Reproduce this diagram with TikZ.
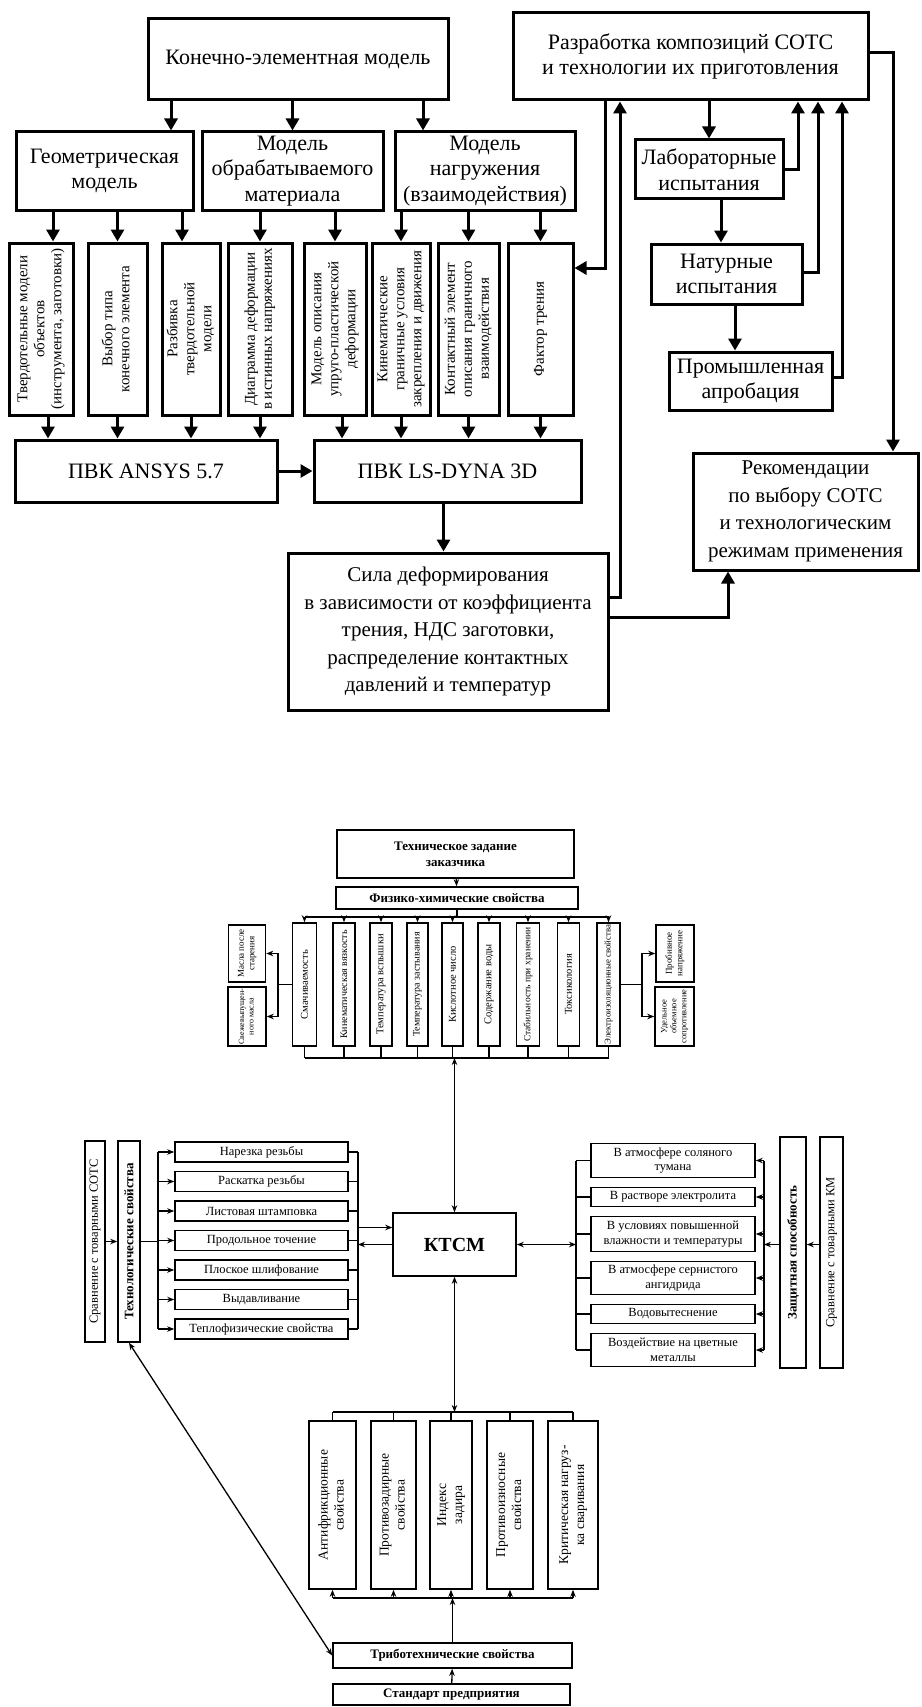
\documentclass[tikz,border=0pt]{standalone}
\usepackage{fontspec}
\setmainfont{Liberation Serif}
\usepackage{graphicx}
\usetikzlibrary{arrows.meta,positioning,calc}

\newcommand{\vtxt}[1]{\rotatebox{90}{\begin{tabular}{@{}c@{}}#1\end{tabular}}}

\begin{document}
\begin{tikzpicture}[x=1pt, y=-1pt,
  topbox/.style={draw, line width=3pt, align=center, inner sep=2pt,
    font=\fontsize{22}{25.5}\selectfont},
  midbox/.style={topbox, font=\fontsize{21}{27.5}\selectfont},
  rotbox/.style={draw, line width=3pt, inner sep=1pt, minimum height=172,
    font=\fontsize{15}{17}\selectfont},
  smallbox/.style={draw, line width=1.6pt, align=center, inner sep=1pt,
    font=\fontsize{12.5}{14.5}\selectfont},
  boldbox/.style={smallbox, font=\fontsize{13}{16}\selectfont\bfseries},
  propbox/.style={smallbox, minimum height=123, font=\fontsize{10.5}{12}\selectfont},
  tinybox/.style={smallbox, font=\fontsize{9}{10.5}\selectfont},
  bigarr/.style={line width=3pt, -{Triangle[length=12pt, width=13pt]}},
  link/.style={line width=1.3pt},
  smallarr/.style={line width=1.3pt, -{Stealth[length=7pt, width=5.5pt]}},
  twoarr/.style={line width=1.3pt, {Stealth[length=7pt, width=5.5pt]}-{Stealth[length=7pt, width=5.5pt]}}
]
  \fill[white] (0,0) rectangle (921,1707);
  \useasboundingbox (0,0) rectangle (921,1707);

  % finite element model
  \node[topbox, minimum width=300, minimum height=81] (fem) at (298,59.5) {Конечно-элементная модель};
  \node[topbox, minimum width=177, minimum height=78] (geom) at (104.5,171) {Геометрическая\\модель};
  \node[topbox, minimum width=181, minimum height=78] (mat) at (292.5,171) {Модель\\обрабатываемого\\материала};
  \node[topbox, minimum width=180, minimum height=78] (load) at (485,171) {Модель\\нагружения\\(взаимодействия)};

  \node[rotbox, minimum width=64] (b1) at (41,329) {\vtxt{Твердотельные модели\\объектов\\(инструмента, заготовки)}};
  \node[rotbox, minimum width=59] (b2) at (117.5,329) {\vtxt{Выбор типа\\конечного элемента}};
  \node[rotbox, minimum width=58] (b3) at (191,329) {\vtxt{Разбивка\\твердотельной\\модели}};
  \node[rotbox, minimum width=64] (b4) at (260,329) {\vtxt{Диаграмма деформации\\в истинных напряжениях}};
  \node[rotbox, minimum width=62] (b5) at (335,329) {\vtxt{Модель описания\\упруго-пластической\\деформации}};
  \node[rotbox, minimum width=58] (b6) at (401,329) {\vtxt{Кинематические\\граничные условия\\закрепления и движения}};
  \node[rotbox, minimum width=61] (b7) at (468.5,329) {\vtxt{Контактный элемент\\описания граничного\\взаимодействия}};
  \node[rotbox, minimum width=65] (b8) at (540.5,329) {\vtxt{Фактор трения}};

  \node[topbox, minimum width=262, minimum height=62] (ansys) at (146,471) {ПВК ANSYS 5.7};
  \node[topbox, minimum width=267, minimum height=62] (dyna) at (447.5,471) {ПВК LS-DYNA 3D};
  \node[midbox, minimum width=320, minimum height=157] (sila) at (448,631.5) {Сила деформирования\\в зависимости от коэффициента\\трения, НДС заготовки,\\распределение контактных\\давлений и температур};

  % fluid development
  \node[topbox, minimum width=355, minimum height=87] (dev) at (690.5,56.5) {Разработка композиций СОТС\\и технологии их приготовления};
  \node[topbox, minimum width=148, minimum height=59] (lab) at (709,169.5) {Лабораторные\\испытания};
  \node[topbox, minimum width=151, minimum height=60] (nat) at (726.5,274) {Натурные\\испытания};
  \node[topbox, minimum width=163, minimum height=58] (prom) at (750.5,381) {Промышленная\\апробация};
  \node[midbox, minimum width=225, minimum height=117] (rec) at (805.5,511.5) {Рекомендации\\по выбору СОТС\\и технологическим\\режимам применения};

  % model arrows
  \coordinate (ag) at ([xshift=66.5]geom.north);
  \coordinate (al) at ([xshift=-62]load.north);
  \draw[bigarr] (ag |- fem.south) -- (ag);
  \draw[bigarr] (mat.north |- fem.south) -- (mat.north);
  \draw[bigarr] (al |- fem.south) -- (al);
  \coordinate (t1) at ([xshift=12]b1.north);
  \coordinate (t3) at ([xshift=-9]b3.north);
  \draw[bigarr] (t1 |- geom.south) -- (t1);
  \draw[bigarr] (b2.north |- geom.south) -- (b2.north);
  \draw[bigarr] (t3 |- geom.south) -- (t3);
  \draw[bigarr] (b4.north |- mat.south) -- (b4.north);
  \draw[bigarr] (b5.north |- mat.south) -- (b5.north);
  \draw[bigarr] (b6.north |- load.south) -- (b6.north);
  \draw[bigarr] (b7.north |- load.south) -- (b7.north);
  \draw[bigarr] (b8.north |- load.south) -- (b8.north);
  \coordinate (s1) at ([xshift=7]b1.south);
  \draw[bigarr] (s1) -- (s1 |- ansys.north);
  \draw[bigarr] (b2.south) -- (b2.south |- ansys.north);
  \draw[bigarr] (b3.south) -- (b3.south |- ansys.north);
  \draw[bigarr] (b4.south) -- (b4.south |- ansys.north);
  \coordinate (s5) at ([xshift=7]b5.south);
  \draw[bigarr] (s5) -- (s5 |- dyna.north);
  \draw[bigarr] (b6.south) -- (b6.south |- dyna.north);
  \draw[bigarr] (b7.south) -- (b7.south |- dyna.north);
  \draw[bigarr] (b8.south) -- (b8.south |- dyna.north);
  \draw[bigarr] (ansys) -- (dyna);
  \coordinate (ds) at ([xshift=-4]dyna.south);
  \draw[bigarr] (ds) -- (ds |- sila.north);

  % test chain and feedback
  \draw[bigarr] (lab.north |- dev.south) -- (lab.north);
  \coordinate (ln) at ([xshift=12]lab.south);
  \draw[bigarr] (ln) -- (ln |- nat.north);
  \coordinate (nn) at ([xshift=8.5]nat.south);
  \draw[bigarr] (nn) -- (nn |- prom.north);
  \coordinate (f1) at ([xshift=107.5]dev.south);
  \coordinate (f2) at ([xshift=127.5]dev.south);
  \coordinate (f3) at ([xshift=151.5]dev.south);
  \draw[bigarr] (lab.east) -| (f1);
  \draw[bigarr] ([yshift=2]nat.east) -| (f2);
  \draw[bigarr] ([yshift=4]prom.east) -| (f3);
  \coordinate (f4) at ([xshift=87.5]rec.north);
  \draw[bigarr] ([yshift=4]dev.east) -| (f4);
  \coordinate (f5) at ([xshift=-85.5]dev.south);
  \draw[bigarr] (f5) |- ([yshift=61]b8.east);
  \coordinate (f6) at ([xshift=-70.5]dev.south);
  \draw[bigarr] ([yshift=34.5]sila.east) -| (f6);
  \coordinate (f7) at ([xshift=-77.5]rec.south);
  \draw[bigarr] ([yshift=14.5]sila.east) -| (f7);

  % customer task and physico-chemical properties
  \node[boldbox, minimum width=237, minimum height=48] (tz) at (455.5,854) {Техническое задание\\заказчика};
  \node[boldbox, minimum width=242, minimum height=22] (fx) at (457,898) {Физико-химические свойства};

  \node[propbox, minimum width=24] (p1) at (304.5,984.5) {\rotatebox{90}{Смачиваемость}};
  \node[propbox, minimum width=22, font=\fontsize{10}{12}\selectfont] (p2) at (344,984.5) {\rotatebox{90}{Кинематическая вязкость}};
  \node[propbox, minimum width=22] (p3) at (381,984.5) {\rotatebox{90}{Температура вспышки}};
  \node[propbox, minimum width=21, font=\fontsize{10}{12}\selectfont] (p4) at (417.5,984.5) {\rotatebox{90}{Температура застывания}};
  \node[propbox, minimum width=21] (p5) at (452.5,984.5) {\rotatebox{90}{Кислотное число}};
  \node[propbox, minimum width=22] (p6) at (489,984.5) {\rotatebox{90}{Содержание воды}};
  \node[propbox, minimum width=23, font=\fontsize{9.5}{12}\selectfont] (p7) at (528,984.5) {\rotatebox{90}{Стабильность при хранении}};
  \node[propbox, minimum width=22] (p8) at (568.5,984.5) {\rotatebox{90}{Токсикология}};
  \node[propbox, minimum width=23, font=\fontsize{8.8}{12}\selectfont] (p9) at (608.5,984.5) {\rotatebox{90}{Электроизоляционные свойства}};

  \node[tinybox, minimum width=37, minimum height=57] (ms) at (247,953.5) {\vtxt{Масла после\\старения}};
  \node[tinybox, font=\fontsize{8}{9.5}\selectfont, minimum width=38, minimum height=59] (sv) at (247,1016.5) {\vtxt{Свежевыпущен-\\ного масла}};
  \node[tinybox, minimum width=38, minimum height=57] (pr) at (675,953.5) {\vtxt{Пробивное\\напряжение}};
  \node[tinybox, font=\fontsize{8.5}{9.8}\selectfont, minimum width=39, minimum height=59] (ud) at (674.5,1016.5) {\vtxt{Удельное\\объемное\\сопротивление}};

  \draw[smallarr] (tz) -- (fx);
  \coordinate (fb) at (457,917);
  \draw[link] (fx.south) -- (fb);
  \draw[link] (fb -| p1) -- (fb -| p9);
  \draw[smallarr] (fb -| p1) -- (p1.north);
  \draw[smallarr] (fb -| p2) -- (p2.north);
  \draw[smallarr] (fb -| p3) -- (p3.north);
  \draw[smallarr] (fb -| p4) -- (p4.north);
  \draw[smallarr] (fb -| p5) -- (p5.north);
  \draw[smallarr] (fb -| p6) -- (p6.north);
  \draw[smallarr] (fb -| p7) -- (p7.north);
  \draw[smallarr] (fb -| p8) -- (p8.north);
  \draw[smallarr] (fb -| p9) -- (p9.north);

  \coordinate (mj) at (278,984.5);
  \draw[link] (p1.west) -- (mj);
  \draw[smallarr] (mj) |- (ms.east);
  \draw[smallarr] (mj) |- (sv.east);
  \coordinate (pj) at (642,984.5);
  \draw[link] (p9.east) -- (pj);
  \draw[smallarr] (pj) |- (pr.west);
  \draw[smallarr] (pj) |- (ud.west);

  % KTSM hub
  \node[smallbox, font=\fontsize{20}{24}\selectfont\bfseries, minimum width=123, minimum height=63] (ktcm) at (454.5,1244.5) {КТСМ};

  \coordinate (kb) at (453,1058);
  \draw[link] (p1.south) -- (p1.south |- kb);
  \draw[link] (p2.south) -- (p2.south |- kb);
  \draw[link] (p3.south) -- (p3.south |- kb);
  \draw[link] (p4.south) -- (p4.south |- kb);
  \draw[link] (p5.south) -- (p5.south |- kb);
  \draw[link] (p6.south) -- (p6.south |- kb);
  \draw[link] (p7.south) -- (p7.south |- kb);
  \draw[link] (p8.south) -- (p8.south |- kb);
  \draw[link] (p9.south) -- (p9.south |- kb);
  \draw[link] (kb -| p1) -- (kb -| p9);
  \draw[twoarr] (ktcm.north |- kb) -- (ktcm.north);

  % technological properties
  \node[smallbox, minimum width=173, minimum height=20] (l1) at (261.5,1152) {Нарезка резьбы};
  \node[smallbox, minimum width=173, minimum height=20] (l2) at (261.5,1181.5) {Раскатка резьбы};
  \node[smallbox, minimum width=173, minimum height=20] (l3) at (261.5,1211) {Листовая штамповка};
  \node[smallbox, minimum width=173, minimum height=20] (l4) at (261.5,1240.5) {Продольное точение};
  \node[smallbox, minimum width=173, minimum height=20] (l5) at (261.5,1270) {Плоское шлифование};
  \node[smallbox, minimum width=173, minimum height=20] (l6) at (261.5,1299.5) {Выдавливание};
  \node[smallbox, minimum width=173, minimum height=20] (l7) at (261.5,1329) {Теплофизические свойства};
  \node[boldbox, minimum width=22, minimum height=201] (tc) at (129,1241.5) {\rotatebox{90}{Технологические свойства}};
  \node[smallbox, minimum width=20, minimum height=201] (sc) at (95,1241.5) {\rotatebox{90}{Сравнение с товарными СОТС}};

  \draw[smallarr] (sc) -- (tc);
  \coordinate (lb) at (158,1241.5);
  \draw[link] (tc.east) -- (lb);
  \draw[link] (lb |- l1) -- (lb |- l7);
  \draw[smallarr] (lb |- l1) -- (l1.west);
  \draw[smallarr] (lb |- l2) -- (l2.west);
  \draw[smallarr] (lb |- l3) -- (l3.west);
  \draw[smallarr] (lb |- l4) -- (l4.west);
  \draw[smallarr] (lb |- l5) -- (l5.west);
  \draw[smallarr] (lb |- l6) -- (l6.west);
  \draw[smallarr] (lb |- l7) -- (l7.west);
  \coordinate (rb) at (358,1241.5);
  \draw[link] (rb |- l1) -- (rb |- l7);
  \draw[link] (l1.east) -- (l1.east -| rb);
  \draw[link] (l2.east) -- (l2.east -| rb);
  \draw[link] (l3.east) -- (l3.east -| rb);
  \draw[link] (l4.east) -- (l4.east -| rb);
  \draw[link] (l5.east) -- (l5.east -| rb);
  \draw[link] (l6.east) -- (l6.east -| rb);
  \draw[link] (l7.east) -- (l7.east -| rb);
  \coordinate (kin) at ([yshift=17]ktcm.west);
  \draw[smallarr] (kin -| rb) -- (kin);
  \draw[smallarr] (ktcm.west) -- (ktcm.west -| rb);

  % protective ability
  \node[smallbox, minimum width=164, minimum height=34] (r1) at (673,1160.5) {В атмосфере соляного\\тумана};
  \node[smallbox, minimum width=164, minimum height=19] (r2) at (673,1197) {В растворе электролита};
  \node[smallbox, minimum width=164, minimum height=35] (r3) at (673,1234) {В условиях повышенной\\влажности и температуры};
  \node[smallbox, minimum width=164, minimum height=33] (r4) at (673,1278) {В атмосфере сернистого\\ангидрида};
  \node[smallbox, minimum width=164, minimum height=19] (r5) at (673,1314) {Водовытеснение};
  \node[smallbox, minimum width=164, minimum height=33] (r6) at (673,1350) {Воздействие на цветные\\металлы};
  \node[boldbox, minimum width=26, minimum height=231] (zs) at (793,1252.5) {\rotatebox{90}{Защитная способность}};
  \node[smallbox, minimum width=23, minimum height=231] (sk) at (831.5,1252.5) {\rotatebox{90}{Сравнение с товарными КМ}};

  \coordinate (qb) at (576,1244.5);
  \draw[twoarr] (ktcm.east) -- (qb);
  \draw[link] (qb |- r1) -- (qb |- r6);
  \draw[link] (qb |- r1) -- (r1.west);
  \draw[link] (qb |- r2) -- (r2.west);
  \draw[link] (qb |- r3) -- (r3.west);
  \draw[link] (qb |- r4) -- (r4.west);
  \draw[link] (qb |- r5) -- (r5.west);
  \draw[link] (qb |- r6) -- (r6.west);
  \coordinate (zb) at (764,1244.5);
  \draw[link] (zb |- r1) -- (zb |- r6);
  \draw[smallarr] (zb |- r1) -- (r1.east);
  \draw[smallarr] (zb |- r2) -- (r2.east);
  \draw[smallarr] (zb |- r3) -- (r3.east);
  \draw[smallarr] (zb |- r4) -- (r4.east);
  \draw[smallarr] (zb |- r5) -- (r5.east);
  \draw[smallarr] (zb |- r6) -- (r6.east);
  \draw[smallarr] (zs.west |- zb) -- (zb);
  \draw[smallarr] (sk.west |- zb) -- (zs.east |- zb);

  % tribotechnical properties
  \node[smallbox, font=\fontsize{13.5}{16}\selectfont, minimum width=47, minimum height=168] (q1) at (332.5,1505) {\vtxt{Антифрикционные\\свойства}};
  \node[smallbox, font=\fontsize{13.5}{16}\selectfont, minimum width=45, minimum height=168] (q2) at (393.5,1505) {\vtxt{Противозадирные\\свойства}};
  \node[smallbox, font=\fontsize{13.5}{16}\selectfont, minimum width=42, minimum height=168] (q3) at (451,1505) {\vtxt{Индекс\\задира}};
  \node[smallbox, font=\fontsize{13.5}{16}\selectfont, minimum width=46, minimum height=168] (q4) at (510,1505) {\vtxt{Противоизносные\\свойства}};
  \node[smallbox, font=\fontsize{13.5}{16}\selectfont, minimum width=50, minimum height=168] (q5) at (573,1505) {\vtxt{Критическая нагруз-\\ка сваривания}};
  \node[boldbox, minimum width=239, minimum height=25] (tb) at (452.5,1655.5) {Триботехнические свойства};
  \node[boldbox, minimum width=237, minimum height=21] (st) at (451.5,1694.5) {Стандарт предприятия};

  \coordinate (ub) at (453,1412);
  \draw[twoarr] (ktcm.south) -- (ktcm.south |- ub);
  \draw[link] (ub -| q1) -- (ub -| q5);
  \draw[link] (ub -| q1) -- (q1.north);
  \draw[link] (ub -| q2) -- (q2.north);
  \draw[link] (ub -| q3) -- (q3.north);
  \draw[link] (ub -| q4) -- (q4.north);
  \draw[link] (ub -| q5) -- (q5.north);
  \coordinate (db) at (452,1598);
  \draw[link] (db -| q1) -- (db -| q5);
  \draw[smallarr] (db -| q1) -- (q1.south);
  \draw[smallarr] (db -| q2) -- (q2.south);
  \draw[smallarr] (db -| q3) -- (q3.south);
  \draw[smallarr] (db -| q4) -- (q4.south);
  \draw[smallarr] (db -| q5) -- (q5.south);
  \draw[smallarr] (tb.north) -- (tb.north |- db);
  \draw[smallarr] (st) -- (tb);
  \draw[twoarr] (tb.west) -- (tc.south);
\end{tikzpicture}
\end{document}
